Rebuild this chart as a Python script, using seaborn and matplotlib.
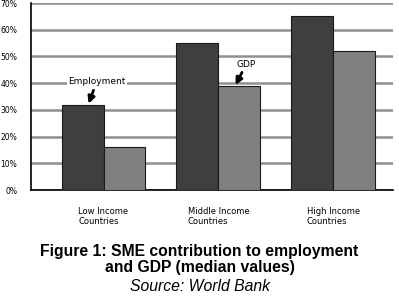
import pandas as pd
import matplotlib
matplotlib.use("Agg")
import matplotlib.pyplot as plt
import seaborn as sns

categories = ["Low Income\nCountries", "Middle Income\nCountries", "High Income\nCountries"]
employment = [32, 55, 65]
gdp = [16, 39, 52]
y_ticks = [0, 10, 20, 30, 40, 50, 60, 70]

df = pd.DataFrame({
    "group": categories * 2,
    "series": ["Employment"] * 3 + ["GDP"] * 3,
    "value": employment + gdp,
})

sns.set_style("white")
plt.rcParams["font.family"] = ["Liberation Sans", "DejaVu Sans"]
plt.rcParams["text.color"] = "black"

fig = plt.figure(figsize=(3.99, 3.04), dpi=100)
ax = fig.add_axes([0.078, 0.375, 0.907, 0.615])

sns.barplot(data=df, x="group", y="value", hue="series",
            palette=["#3f3f3f", "#808080"], width=0.73, gap=0,
            edgecolor="#1a1a1a", linewidth=0.8, saturation=1,
            legend=False, ax=ax, zorder=3)

ax.set_ylim(0, 70)
ax.set_xlim(-0.63, 2.52)
ax.set_yticks(y_ticks)
ax.set_yticklabels([f"{t}%" for t in y_ticks], fontsize=5.5, family="DejaVu Sans")
ax.yaxis.grid(True, color="#8f8f8f", linewidth=1.8, zorder=0)
ax.set_axisbelow(True)
ax.tick_params(axis="y", length=0, pad=10, colors="black")
ax.tick_params(axis="x", length=0, pad=12, colors="black")
for lbl in ax.get_xticklabels():
    lbl.set_fontsize(6)
    lbl.set_multialignment("left")
    lbl.set_family("DejaVu Sans")
ax.set_xlabel("")
ax.set_ylabel("")
for s in ["top", "right"]:
    ax.spines[s].set_visible(False)
ax.spines["left"].set_color("black")
ax.spines["bottom"].set_color("black")
ax.spines["left"].set_linewidth(1.2)
ax.spines["bottom"].set_linewidth(1.2)

arrow = dict(arrowstyle="-|>", color="black", lw=2, mutation_scale=10,
             shrinkA=2, shrinkB=0)
ax.annotate("Employment", xy=(-0.13, employment[0] + 0.3), xytext=(-0.06, 40.5),
            fontsize=6.5, ha="center", va="center", family="DejaVu Sans",
            bbox=dict(boxstyle="square,pad=0.15", fc="white", ec="none"),
            arrowprops=arrow, zorder=5)
ax.annotate("GDP", xy=(1.15, gdp[1] + 0.3), xytext=(1.24, 47),
            fontsize=6.5, ha="center", va="center", family="DejaVu Sans",
            bbox=dict(boxstyle="square,pad=0.1", fc="white", ec="none"),
            arrowprops=arrow, zorder=5)

fig.text(0.5, 0.147, "Figure 1: SME contribution to employment\nand GDP (median values)",
         ha="center", va="center", fontsize=11.3, fontweight="bold", linespacing=1.05)
fig.text(0.5, 0.056, "Source: World Bank", ha="center", va="center",
         fontsize=11.3, style="italic")

fig.savefig("out.png", dpi=100)
